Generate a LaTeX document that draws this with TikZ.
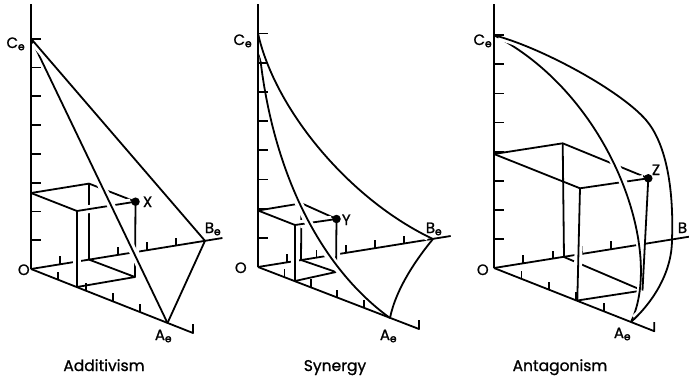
\documentclass[tikz,border=0pt]{standalone}
\usepackage{fontspec}
\setmainfont{Poppins}
\newfontfamily\labf[FakeBold=1]{Poppins}
\newfontfamily\blobf[FakeBold=3]{Poppins}
\usetikzlibrary{calc}
\newcommand\mysube{\textsubscript{\blobf e}}
\begin{document}
\begin{tikzpicture}[x=1pt,y=-1pt,line width=1.8pt,line join=round,
  halo/.style={preaction={draw=white,line width=8pt,shorten <=5pt,shorten >=5pt}},
  lbl/.style={font=\labf\fontsize{15}{15}\selectfont,inner sep=0pt},
  capt/.style={font=\labf\fontsize{15.5}{15.5}\selectfont,inner sep=0pt,anchor=base},
  dotn/.style={circle,fill=black,inner sep=0pt,minimum size=8.5pt}]
\useasboundingbox (0,0) rectangle (689,378);

% ================= Panel 1: Additivism
\coordinate (O1) at (31,269);
\coordinate (T1) at (31,4);
\coordinate (Ce1) at (31,38.6);
\coordinate (Ae1) at (167.5,323);
\coordinate (Aend1) at (193,333);
\coordinate (Be1) at (205,240.8);
\coordinate (Bend1) at (222.4,238);
\coordinate (Cz1) at (31,193);
\coordinate (BT1) at (89,183.6);
\coordinate (FT1) at (77,211);
\coordinate (X1) at (135.5,201.7);
\coordinate (FB1) at (77,287);
\coordinate (BB1) at (89,259.6);
\coordinate (XB1) at (135,277);
% B axis
\draw (O1) -- (Bend1);
\foreach \k in {1,...,5} \draw ($(O1)+\k*(29,-4.7)$) -- ++(0,-8);
% back edges
\draw (Cz1) -- (BT1) -- (X1);
\draw (BT1) -- (BB1) -- (XB1) -- (FB1);
\draw (Cz1) -- (FT1);
% front edges
\draw[halo] (FT1) -- (FB1);
\draw[halo] (FT1) -- (X1);
\draw[halo] (X1) -- (XB1);
% isobole
\draw[halo] (Ce1) -- (Ae1);
\draw[halo] (Ce1) -- (Be1);
\draw[halo] (Be1) -- (Ae1);
% C and A axes
\draw (O1) -- (T1);
\foreach \k in {1,...,8} \draw ($(O1)+\k*(0,-28.8)$) -- ++(10,0);
\draw (O1) -- (Aend1) -- ++(0,-9);
\foreach \k in {1,...,4} \draw ($(O1)+\k*(27.3,10.8)$) -- ++(0,-8);
\node[dotn] (Xd1) at (X1) {};
\node[lbl,anchor=base west] (lX1) at (142,207) {X};
\node[lbl,anchor=base west] (lO1) at (17,275) {O};
\node[lbl,anchor=base east] (lC1) at (26,48) {C\mysube};
\node[lbl,anchor=base west] (lB1) at (204,233) {B\mysube};
\node[lbl,anchor=base west] (lA1) at (154,340) {A\mysube};
\node[capt] (cap1) at (104,371) {Additivism};

% ================= Panel 2: Synergy
\coordinate (O2) at (258,267);
\coordinate (T2) at (258,4);
\coordinate (Ce2) at (258,33.4);
\coordinate (Ae2) at (390,318);
\coordinate (Aend2) at (419,329);
\coordinate (Be2) at (433,239);
\coordinate (Bend2) at (450.7,236);
\coordinate (Cz2) at (258,210.5);
\coordinate (BT2) at (301.5,203.3);
\coordinate (FT2) at (295,225);
\coordinate (Y2) at (336.5,219);
\coordinate (FB2) at (295,281);
\coordinate (BB2) at (301,260);
\coordinate (YB2) at (336,272);
\draw (O2) -- (Bend2);
\foreach \k in {1,...,5} \draw ($(O2)+\k*(29.2,-4.7)$) -- ++(0,-8);
\draw (Cz2) -- (BT2) -- (Y2);
\draw (BT2) -- (BB2) -- (YB2) -- (FB2);
\draw (Cz2) -- (FT2);
\draw[halo] (FT2) -- (FB2);
\draw[halo] (FT2) -- (Y2);
\draw[halo] (Y2) -- (YB2);
\draw[halo] (Ce2) .. controls (266,150) and (310,260) .. (Ae2);
\draw[halo] (Ce2) .. controls (275,110) and (350,200) .. (Be2);
\draw[halo] (Be2) .. controls (418,257) and (396,288) .. (Ae2);
\draw (O2) -- (T2);
\foreach \k in {1,...,8} \draw ($(O2)+\k*(0,-29.2)$) -- ++(10,0);
\draw (O2) -- (Aend2) -- ++(0,-9);
\foreach \k in {1,...,4} \draw ($(O2)+\k*(26.4,10.2)$) -- ++(0,-8);
\node[dotn] (Yd2) at (Y2) {};
\node[lbl,anchor=base west] (lY2) at (341,225) {Y};
\node[lbl,anchor=base west] (lO2) at (234,273) {O};
\node[lbl,anchor=base east] (lC2) at (253,45) {C\mysube};
\node[lbl,anchor=base west] (lB2) at (425,233) {B\mysube};
\node[lbl,anchor=base west] (lA2) at (379,340) {A\mysube};
\node[capt] (cap2) at (335,371) {Synergy};

% ================= Panel 3: Antagonism
\coordinate (O3) at (494,268);
\coordinate (T3) at (494,4);
\coordinate (Ce3) at (494,35.2);
\coordinate (Ae3) at (631,322);
\coordinate (Aend3) at (654.3,331.2);
\coordinate (Be3) at (672,239.5);
\coordinate (Bend3) at (696,235.6);
\coordinate (M3) at (646,120);
\coordinate (Cz3) at (494,154);
\coordinate (BT3) at (562.7,143.3);
\coordinate (FT3) at (580,188.3);
\coordinate (Z3) at (648.3,178.3);
\coordinate (FB3) at (577.3,300.5);
\coordinate (BB3) at (564,257);
\coordinate (ZB3) at (642.5,290.5);
\draw (O3) -- (Bend3);
\foreach \k in {1,...,5} \draw ($(O3)+\k*(29.3,-4.7)$) -- ++(0,-8);
\draw (Cz3) -- (BT3) -- (Z3);
\draw (BT3) -- (BB3) -- (ZB3) -- (FB3);
\draw (Cz3) -- (FT3);
\draw[halo] (FT3) -- (FB3);
\draw[halo] (FT3) -- (Z3);
\draw[halo] (Ce3) .. controls (610,95) and (665,250) .. (Ae3);
\draw[halo] (Ce3) .. controls (540,47) and (620,90) .. (M3) .. controls (665,142) and (674,185) .. (Be3);
\draw[halo] (Be3) .. controls (672,275) and (650,305) .. (Ae3);
\draw (Z3) -- (ZB3);
\draw (O3) -- (T3);
\foreach \k in {1,...,8} \draw ($(O3)+\k*(0,-29.1)$) -- ++(10,0);
\draw (O3) -- (Aend3) -- ++(0,-9);
\foreach \k in {1,...,4} \draw ($(O3)+\k*(27.4,10.8)$) -- ++(0,-8);
\node[dotn] (Zd3) at (Z3) {};
\node[lbl,anchor=base west] (lZ3) at (651,175) {Z};
\node[lbl,anchor=base west] (lO3) at (476,275) {O};
\node[lbl,anchor=base east] (lC3) at (493,45) {C\mysube};
\node[lbl,anchor=base west] (lB3) at (677,233) {B};
\node[lbl,anchor=base west] (lA3) at (613,338) {A\mysube};
\node[capt] (cap3) at (560,371) {Antagonism};
\end{tikzpicture}
\end{document}
